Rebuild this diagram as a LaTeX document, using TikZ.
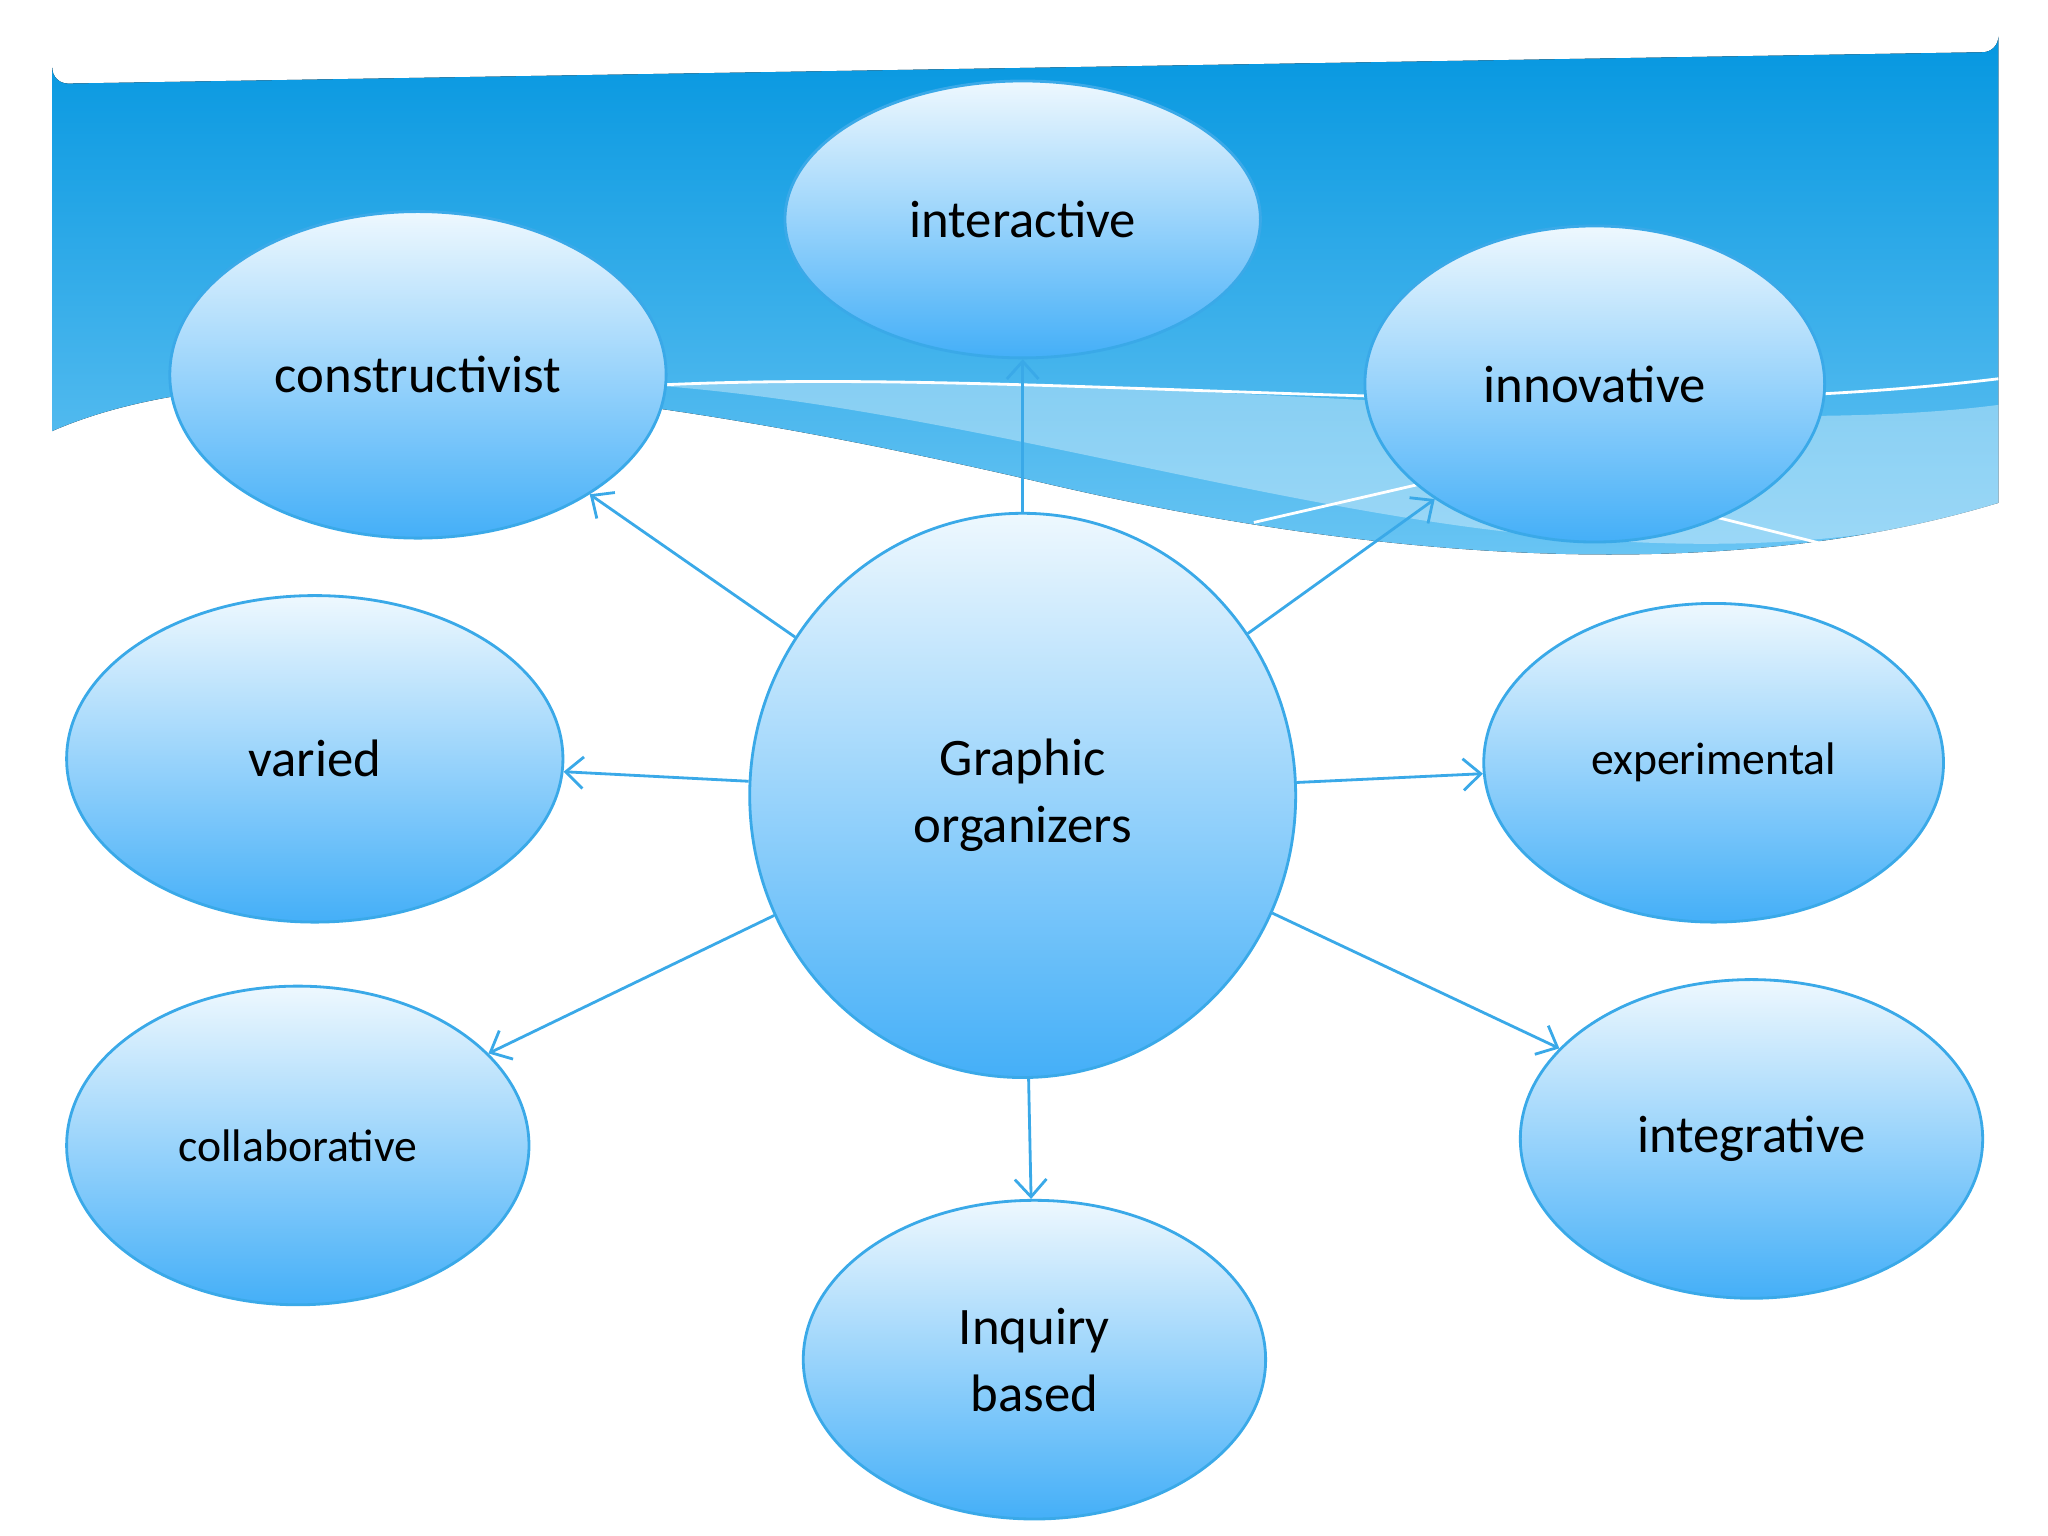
\documentclass[tikz,border=0pt]{standalone}
\usepackage{fontspec}
\setmainfont{Carlito}
\usetikzlibrary{shapes.geometric}
\usetikzlibrary{arrows.meta}

\definecolor{skyline}{HTML}{3AA9E8}
\definecolor{skytop}{HTML}{0597E0}
\definecolor{skylow}{HTML}{6CC6F4}
\definecolor{bubtop}{HTML}{EEF8FE}
\definecolor{bubbot}{HTML}{44AFF8}

\tikzset{
    bubble/.style={ellipse, draw=skyline, thick, top color=bubtop, bottom color=bubbot,
        inner sep=0pt, align=center, font=\fontsize{15}{19}\selectfont},
    link/.style={draw=skyline, thick, ->, >={Straight Barb[length=5pt,width=9pt]}},
}

\begin{document}
\begin{tikzpicture}[x=0.01306cm, y=-0.01306cm]
    \useasboundingbox (0,0) rectangle (1568,1176);
    % backdrop with wave
    \fill[top color=skytop, bottom color=skylow]
        (40,330) -- (40,52) arc[start angle=180, end angle=90, radius=12]
        -- (1518,40) arc[start angle=90, end angle=0, radius=12] -- (1530,385)
        .. controls (1350,440) and (1100,440) .. (800,370)
        .. controls (500,300) and (200,260) .. (40,330) -- cycle;
    \fill[white, opacity=0.35] (500,295) .. controls (900,280) and (1300,340) .. (1530,310)
        -- (1530,385) .. controls (1450,415) and (1300,430) .. (1100,400)
        .. controls (900,370) and (700,310) .. (500,295) -- cycle;
    \draw[white, thick] (500,295) .. controls (800,280) and (1200,330) .. (1530,290);
    \draw[white, thick] (960,400) -- (1090,370);
    \draw[white, thick] (1310,395) -- (1410,420);

    % bubbles
    \node[bubble, minimum width=418*0.01306cm, minimum height=432*0.01306cm] (go) at (783,609) {Graphic\\organizers};
    \node[bubble, minimum width=364*0.01306cm, minimum height=212*0.01306cm] (inter) at (783,168) {interactive};
    \node[bubble, minimum width=380*0.01306cm, minimum height=250*0.01306cm] (constr) at (320,287) {constructivist};
    \node[bubble, minimum width=352*0.01306cm, minimum height=242*0.01306cm] (innov) at (1221,294) {innovative};
    \node[bubble, minimum width=380*0.01306cm, minimum height=250*0.01306cm] (varied) at (241,581) {varied};
    \node[bubble, minimum width=352*0.01306cm, minimum height=244*0.01306cm, font=\fontsize{13}{16}\selectfont] (exper) at (1312,584) {experimental};
    \node[bubble, minimum width=354*0.01306cm, minimum height=244*0.01306cm, font=\fontsize{13}{16}\selectfont] (collab) at (228,877) {collaborative};
    \node[bubble, minimum width=354*0.01306cm, minimum height=244*0.01306cm] (integ) at (1341,872) {integrative};
    \node[bubble, minimum width=354*0.01306cm, minimum height=244*0.01306cm] (inq) at (792,1041) {Inquiry\\based};

    % links
    \foreach \t in {inter,constr,innov,varied,exper,collab,integ,inq}
        \draw[link] (go) -- (\t);
\end{tikzpicture}
\end{document}
